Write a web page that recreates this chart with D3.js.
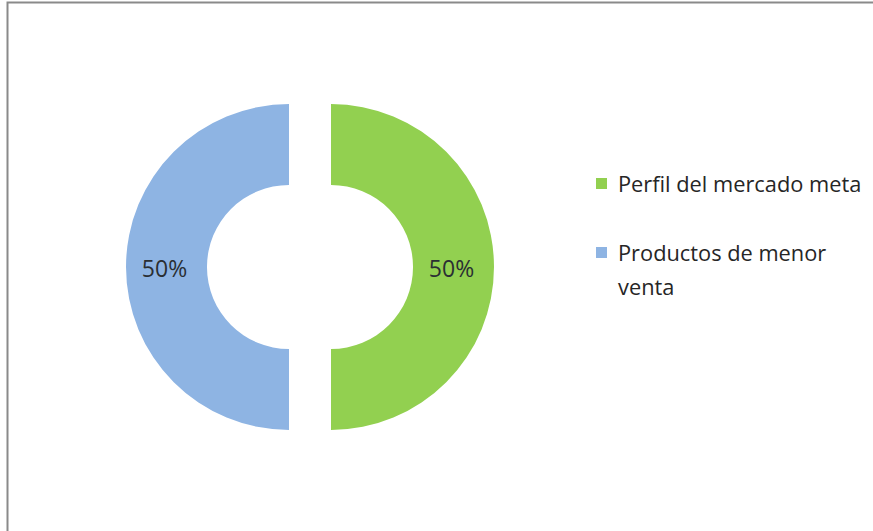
<!DOCTYPE html>
<html>
<head>
<meta charset="utf-8">
<script src="https://cdn.jsdelivr.net/npm/d3@7"></script>
<style>
  html, body { margin: 0; padding: 0; background: #fff; }
  svg { display: block; }
  text { font-family: "Open Sans", Lato, sans-serif; }
</style>
</head>
<body>
<svg id="chart" width="873" height="531"></svg>
<script>
// Chart data
const categories = ["Perfil del mercado meta", "Productos de menor venta"];
const values = [50, 50];
const valueLabels = ["50%", "50%"];
const colors = ["#92D050", "#8EB4E3"];

const svg = d3.select("#chart");
const W = 873, H = 531;

// Chart frame (only left and top edges fall inside the view)
svg.append("rect")
  .attr("x", 7.5).attr("y", 2.5)
  .attr("width", W + 20).attr("height", H + 20)
  .attr("fill", "#fff")
  .attr("stroke", "#8a8a8a")
  .attr("stroke-width", 2);

// Doughnut geometry
const cx = 310, cy = 267;
const outerR = 163, innerR = 82;
const explode = 21;

const pie = d3.pie().sort(null).value(d => d).startAngle(0).endAngle(2 * Math.PI);
const arc = d3.arc().innerRadius(innerR).outerRadius(outerR);

const slices = pie(values);
const g = svg.append("g").attr("transform", `translate(${cx},${cy})`);

const sliceG = g.selectAll("g.slice")
  .data(slices)
  .join("g")
  .attr("class", "slice")
  .attr("transform", d => {
    const a = (d.startAngle + d.endAngle) / 2;
    return `translate(${explode * Math.sin(a)},${-explode * Math.cos(a)})`;
  });

sliceG.append("path")
  .attr("d", arc)
  .attr("fill", (d, i) => colors[i]);

sliceG.append("text")
  .attr("transform", d => {
    const [x, y] = arc.centroid(d);
    return `translate(${x - 2},${y + 2})`;
  })
  .attr("text-anchor", "middle")
  .attr("dy", "0.35em")
  .attr("font-size", 23)
  .attr("fill", "#2a2f33")
  .text((d, i) => valueLabels[i]);

// Legend
const legendX = 596, legendTextX = 618;
const legendY = [192, 261];
const lineH = 34;
const maxW = 252;
const fontSize = 21.8;

const legend = svg.append("g");
categories.forEach((name, i) => {
  legend.append("rect")
    .attr("x", legendX).attr("y", legendY[i] - 14)
    .attr("width", 11).attr("height", 11)
    .attr("fill", colors[i]);
  const t = legend.append("text")
    .attr("x", legendTextX).attr("y", legendY[i])
    .attr("font-size", fontSize)
    .attr("fill", "#262626");
  // wrap words onto lines no wider than maxW
  const words = name.split(" ");
  let line = [];
  let ts = t.append("tspan").attr("x", legendTextX).attr("y", legendY[i]);
  let lineNo = 0;
  words.forEach(w => {
    line.push(w);
    ts.text(line.join(" "));
    if (ts.node().getComputedTextLength() > maxW && line.length > 1) {
      line.pop();
      ts.text(line.join(" "));
      line = [w];
      lineNo++;
      ts = t.append("tspan").attr("x", legendTextX)
        .attr("y", legendY[i] + lineNo * lineH).text(w);
    }
  });
});
</script>
</body>
</html>
